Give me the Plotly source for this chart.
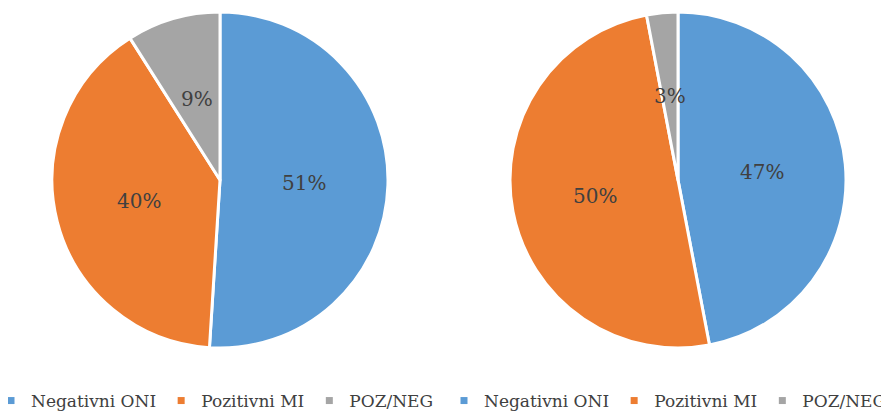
import math
import plotly.graph_objects as go

categories = ["Negativni ONI", "Pozitivni MI", "POZ/NEG"]
left_values = [51, 40, 9]
right_values = [47, 50, 3]
colors = ["#5B9BD5", "#ED7D31", "#A5A5A5"]

# page body has an 8px default margin, so the figure is drawn 8px in from the window edge
OFF = 8
W, H = 889 - OFF, 412 - OFF
FONT = "DejaVu Serif"
TXT = "#404040"


def px2x(X):
    return (X - OFF) / W


def px2y(Y):
    return 1 - (Y - OFF) / H


pies = [
    dict(values=left_values, box=(52, 388, 12, 348), legend="legend", lx=215),
    dict(values=right_values, box=(510, 846, 12, 348), legend="legend2", lx=668),
]

fig = go.Figure()
annotations = []
for p in pies:
    x0, x1, y0, y1 = p["box"]
    fig.add_trace(go.Pie(
        labels=categories, values=p["values"], sort=False,
        direction="clockwise", rotation=0,
        marker=dict(colors=colors, line=dict(color="white", width=3)),
        textinfo="none", showlegend=False,
        domain=dict(x=[px2x(x0), px2x(x1)], y=[px2y(y1), px2y(y0)]),
        hoverinfo="label+percent",
    ))
    # legend entries (small square keys) for this pie
    for name, col in zip(categories, colors):
        fig.add_trace(go.Scatter(
            x=[None], y=[None], mode="markers", name=name, legend=p["legend"],
            marker=dict(symbol="square", size=7, color=col), hoverinfo="skip",
        ))
    # data labels at half radius along each slice's mid-angle
    cx, cy, r = (x0 + x1) / 2, (y0 + y1) / 2, (x1 - x0) / 2
    total = sum(p["values"])
    cum = 0
    for v in p["values"]:
        mid = (cum + v / 2) / total * 2 * math.pi
        cum += v
        lx = cx + 0.5 * r * math.sin(mid)
        ly = cy - 0.5 * r * math.cos(mid)
        annotations.append(dict(
            x=px2x(lx), y=px2y(ly), xref="paper", yref="paper", showarrow=False,
            text=f"{round(v / total * 100)}%", font=dict(family=FONT, size=20, color=TXT),
            xanchor="center", yanchor="middle",
        ))

legfont = dict(family=FONT, size=17, color=TXT)
leg_common = dict(orientation="h", xanchor="center", y=px2y(401), yanchor="middle",
                  font=legfont, itemwidth=30, entrywidth=0, bgcolor="rgba(0,0,0,0)",
                  borderwidth=0)
fig.update_layout(
    width=W, height=H, margin=dict(l=0, r=0, t=0, b=0, autoexpand=False),
    paper_bgcolor="white", plot_bgcolor="white",
    font=dict(family=FONT, color=TXT),
    annotations=annotations,
    xaxis=dict(visible=False), yaxis=dict(visible=False),
    legend=dict(x=px2x(pies[0]["lx"]), **leg_common),
    legend2=dict(x=px2x(pies[1]["lx"]), **leg_common),
    showlegend=True,
)
fig.write_html("out.html")
